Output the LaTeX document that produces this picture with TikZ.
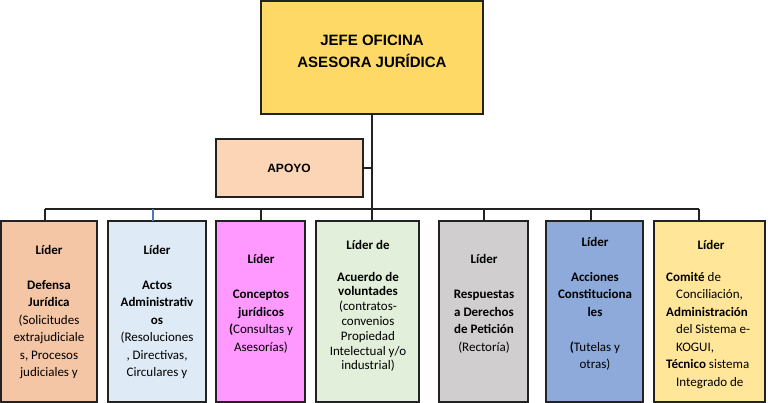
\documentclass[tikz,border=0pt]{standalone}
\usepackage{fontspec}
\setmainfont{Carlito}
\newfontfamily\arialf{Liberation Sans}
\definecolor{cTop}{HTML}{FFD966}
\definecolor{cPeach}{HTML}{FBD5B5}
\definecolor{cOne}{HTML}{F5C6A6}
\definecolor{cTwo}{HTML}{DEEAF6}
\definecolor{cThree}{HTML}{FF99FF}
\definecolor{cFour}{HTML}{E2EFDA}
\definecolor{cFive}{HTML}{D0CECE}
\definecolor{cSix}{HTML}{8EAADB}
\definecolor{cSeven}{HTML}{FFE699}
\definecolor{cLine}{HTML}{222222}
\begin{document}
\begin{tikzpicture}[x=1pt,y=-1pt,
  boxst/.style={draw=cLine,line width=1.3pt},
  txt/.style={align=center,font={\fontsize{13}{17.5}\selectfont},inner sep=0pt},
  wire/.style={draw=cLine,line width=1.2pt}]
\useasboundingbox (0,0) rectangle (768,403);
% boxes
\path[boxst,fill=cTop] (261,1) rectangle (483,114);
\path[boxst,fill=cPeach] (216,139) rectangle (363,197);
\coordinate (top) at (372,114);
\coordinate (apoyoR) at (363,168);
\coordinate (junc) at (372,168);
\coordinate (busC) at (372,209);
\path[boxst,fill=cOne] (1,221) rectangle (97,402);
\path[boxst,fill=cTwo] (108,221) rectangle (206,402);
\path[boxst,fill=cThree] (216,221) rectangle (305,402);
\path[boxst,fill=cFour] (316,221) rectangle (419,402);
\path[boxst,fill=cFive] (439,221) rectangle (528,402);
\path[boxst,fill=cSix] (546,221) rectangle (643,402);
\path[boxst,fill=cSeven] (654,221) rectangle (765,402);
% wires
\draw[wire] (top) -- (busC);
\draw[wire] (apoyoR) -- (junc);
\draw[wire] (45,209) -- (699,209);
\foreach \x in {45,261,372,484,591,699} \draw[wire] (\x,209) -- (\x,221);
\draw[draw={rgb,255:red,80;green,120;blue,180},line width=1.2pt] (153,209) -- (153,221);
% texts
\node[font={\arialf\bfseries\fontsize{15}{22}\selectfont},align=center] (title) at (372,51) {JEFE OFICINA\\ASESORA JURÍDICA};
\node[font={\arialf\bfseries\fontsize{12}{14}\selectfont}] (apoyo) at (289,168) {APOYO};
\node[txt] (b1) at (49,312) {\textbf{Líder}\\[17.5pt]\textbf{Defensa}\\\textbf{Jurídica}\\(Solicitudes\\extrajudiciale\\s, Procesos\\judiciales y};
\node[txt] (b2) at (157,312) {\textbf{Líder}\\[17.5pt]\textbf{Actos}\\\textbf{Administrativ}\\\textbf{os}\\(Resoluciones\\, Directivas,\\Circulares y};
\node[txt] (b3) at (261,304) {\textbf{Líder}\\[17.5pt]\textbf{Conceptos}\\\textbf{jurídicos}\\\textbf{(}Consultas y\\Asesorías)};
\node[txt,font={\fontsize{13}{14.8}\selectfont}] (b4) at (368,306) {\textbf{Líder de}\\[17pt]\textbf{Acuerdo de}\\\textbf{voluntades}\\(contratos-\\convenios\\Propiedad\\Intelectual y/o\\industrial)};
\node[txt] (b5) at (484,304) {\textbf{Líder}\\[17.5pt]\textbf{Respuestas}\\\textbf{a Derechos}\\\textbf{de Petición}\\(Rectoría)};
\node[txt] (b6) at (595,304) {\textbf{Líder}\\[17.5pt]\textbf{Acciones}\\\textbf{Constituciona}\\\textbf{les}\\[17.5pt]\textbf{(}Tutelas y\\otras)};
\node[txt] (b7h) at (711,245) {\textbf{Líder}};
\node[txt,align=left,anchor=north west] (b7) at (666,272) {\textbf{Comité} de\\\hspace*{10pt}Conciliación,\\\textbf{Administración}\\\hspace*{10pt}del Sistema e-\\\hspace*{10pt}KOGUI,\\\textbf{Técnico} sistema\\\hspace*{10pt}Integrado de};
\end{tikzpicture}
\end{document}
